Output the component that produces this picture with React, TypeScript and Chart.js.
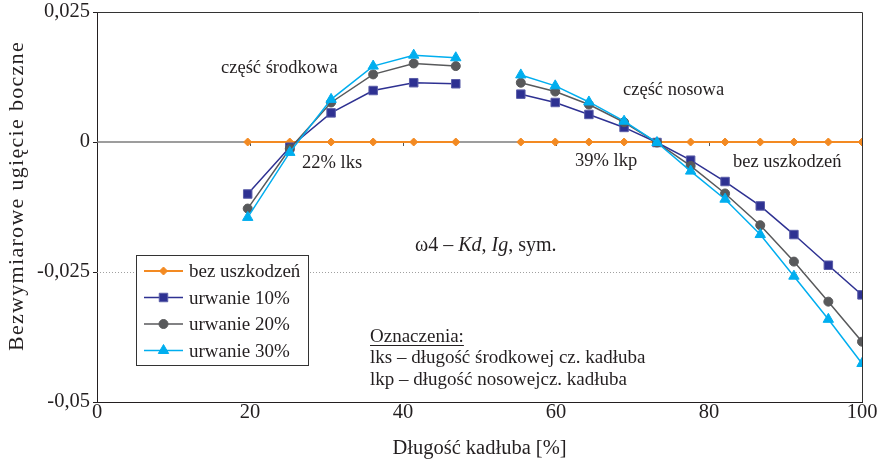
import React, { useEffect, useRef } from "react";
import { Chart, registerables } from "chart.js";
import { drawPoint } from "chart.js/helpers";

Chart.register(...registerables);

// Positions along the hull [%] where the deflection was computed
const hullPositions = [
  19.7, 25.2, 30.6, 36.1, 41.4, 46.9,
  55.4, 59.9, 64.3, 68.9, 73.2, 77.6, 82.1, 86.7, 91.1, 95.6, 100,
];
// the midship part ends at this index; the bow part starts after it
const midshipLastIndex = 5;

const noDamage = [0, 0, 0, 0, 0, 0, 0, 0, 0, 0, 0, 0, 0, 0, 0, 0, 0];
const break10 = [
  -0.01, -0.001, 0.0056, 0.0099, 0.0114, 0.0112,
  0.0092, 0.0076, 0.0053, 0.0028, -0.0001, -0.0035, -0.0076, -0.0123, -0.0178, -0.0237, -0.0294,
];
const break20 = [
  -0.0128, -0.0013, 0.0076, 0.013, 0.0151, 0.0146,
  0.0114, 0.0097, 0.0072, 0.0038, -0.0001, -0.0046, -0.0099, -0.016, -0.023, -0.0307, -0.0384,
];
const break30 = [
  -0.0145, -0.002, 0.0082, 0.0146, 0.0167, 0.0162,
  0.0129, 0.0108, 0.0077, 0.004, -0.0001, -0.0056, -0.011, -0.0178, -0.0258, -0.0341, -0.0426,
];

const seriesLabels = ["bez uszkodzeń", "urwanie 10%", "urwanie 20%", "urwanie 30%"];
const xTickValues = [0, 20, 40, 60, 80, 100];
const yTickValues = [-0.05, -0.025, 0, 0.025];
const zeroLineTicks = [20, 40, 60, 80];

const SERIF = '"Liberation Serif", "Times New Roman", serif';
const INK = "#231f20";

const toPoints = (values: number[]) =>
  values.map((v, i) => ({ x: hullPositions[i], y: v }));

const gapSegment = {
  borderColor: (ctx: any) =>
    ctx.p0DataIndex === midshipLastIndex ? "rgba(0,0,0,0)" : undefined,
};

const formatTick = (v: number) => (v === 0 ? "0" : String(v).replace(".", ","));

function drawMixed(ctx: CanvasRenderingContext2D, parts: [string, boolean][], x: number, y: number, size: number) {
  let cx = x;
  for (const [text, italic] of parts) {
    ctx.font = `${italic ? "italic " : ""}${size}px ${SERIF}`;
    ctx.fillText(text, cx, y);
    cx += ctx.measureText(text).width;
  }
}

const decorations = {
  id: "decorations",
  beforeDatasetsDraw(chart: any) {
    const { ctx, chartArea: a, scales } = chart;
    const xs = scales.x;
    const ys = scales.y;
    ctx.save();
    // dotted grid line
    const yd = Math.round(ys.getPixelForValue(-0.025)) + 0.5;
    ctx.strokeStyle = "#a0a0a0";
    ctx.lineWidth = 1;
    ctx.setLineDash([1, 2]);
    ctx.beginPath();
    ctx.moveTo(a.left, yd);
    ctx.lineTo(a.right, yd);
    ctx.stroke();
    ctx.setLineDash([]);
    // zero line with its small ticks
    const y0 = ys.getPixelForValue(0);
    ctx.strokeStyle = "#7d7d7d";
    ctx.lineWidth = 1.5;
    ctx.beginPath();
    ctx.moveTo(a.left, y0);
    ctx.lineTo(a.right, y0);
    ctx.stroke();
    ctx.strokeStyle = "#555";
    ctx.lineWidth = 1;
    for (const v of zeroLineTicks) {
      const px = Math.round(xs.getPixelForValue(v)) + 0.5;
      ctx.beginPath();
      ctx.moveTo(px, y0);
      ctx.lineTo(px, y0 + 4);
      ctx.stroke();
    }
    // frame: top and right
    ctx.strokeStyle = "#333";
    ctx.lineWidth = 1;
    ctx.beginPath();
    ctx.moveTo(a.left, Math.round(a.top) + 0.5);
    ctx.lineTo(Math.round(a.right) + 0.5, Math.round(a.top) + 0.5);
    ctx.lineTo(Math.round(a.right) + 0.5, a.bottom);
    ctx.stroke();
    ctx.restore();
  },
  afterDraw(chart: any) {
    const { ctx } = chart;
    ctx.save();
    ctx.fillStyle = INK;
    ctx.textBaseline = "alphabetic";
    ctx.textAlign = "left";

    // vertical axis title
    ctx.save();
    ctx.translate(17, 196);
    ctx.rotate(-Math.PI / 2);
    ctx.font = `22px ${SERIF}`;
    (ctx as any).letterSpacing = "1.3px";
    ctx.textAlign = "center";
    ctx.textBaseline = "middle";
    ctx.fillText("Bezwymiarowe ugięcie boczne", 0, 0);
    ctx.restore();

    // annotations
    ctx.font = `18.5px ${SERIF}`;
    ctx.fillText("część środkowa", 221, 73);
    ctx.fillText("22% lks", 302, 168);
    ctx.fillText("39% lkp", 575, 166);
    ctx.fillText("część nosowa", 623, 95);
    ctx.fillText("bez uszkodzeń", 733, 167);

    drawMixed(ctx, [["ω4 – ", false], ["Kd", true], [", ", false], ["Ig", true], [", sym.", false]], 415, 251, 20);

    ctx.font = `19px ${SERIF}`;
    ctx.fillText("Oznaczenia:", 370, 342);
    const w = ctx.measureText("Oznaczenia:").width;
    ctx.strokeStyle = INK;
    ctx.lineWidth = 1;
    ctx.beginPath();
    ctx.moveTo(370, 345.5);
    ctx.lineTo(370 + w, 345.5);
    ctx.stroke();
    ctx.fillText("lks – długość środkowej cz. kadłuba", 370, 363);
    ctx.fillText("lkp – długość nosowejcz. kadłuba", 370, 385);

    // legend
    const box = { l: 136.5, t: 255.5, r: 308.5, b: 365.5 };
    ctx.fillStyle = "#fff";
    ctx.fillRect(box.l, box.t, box.r - box.l, box.b - box.t);
    ctx.strokeStyle = "#333";
    ctx.lineWidth = 1;
    ctx.strokeRect(box.l, box.t, box.r - box.l, box.b - box.t);
    chart.data.datasets.forEach((ds: any, i: number) => {
      const cy = 271 + i * 26.5;
      ctx.strokeStyle = ds.borderColor;
      ctx.lineWidth = ds.borderWidth;
      ctx.beginPath();
      ctx.moveTo(144, cy);
      ctx.lineTo(183, cy);
      ctx.stroke();
      ctx.fillStyle = ds.pointBackgroundColor;
      ctx.strokeStyle = ds.pointBorderColor;
      ctx.lineWidth = ds.pointBorderWidth;
      drawPoint(ctx, {
        pointStyle: ds.pointStyle,
        radius: ds.pointRadius,
        rotation: 0,
        borderWidth: ds.pointBorderWidth,
      }, 163.5, cy);
      ctx.fillStyle = INK;
      ctx.font = `19px ${SERIF}`;
      ctx.fillText(ds.label, 189, cy + 6);
    });
    ctx.restore();
  },
};

export default function App() {
  const canvasRef = useRef<HTMLCanvasElement | null>(null);

  useEffect(() => {
    if (!canvasRef.current) return;
    const chart = new Chart(canvasRef.current, {
      type: "line",
      data: {
        datasets: [
          {
            label: seriesLabels[0],
            data: toPoints(noDamage),
            borderColor: "#f38a22",
            backgroundColor: "#f38a22",
            borderWidth: 2,
            pointStyle: "rectRot",
            pointRadius: 4,
            pointBackgroundColor: "#f38a22",
            pointBorderColor: "#f38a22",
            pointBorderWidth: 1,
            segment: gapSegment,
            order: 4,
          },
          {
            label: seriesLabels[1],
            data: toPoints(break10),
            borderColor: "#2e3192",
            backgroundColor: "#2e3192",
            borderWidth: 1.5,
            pointStyle: "rect",
            pointRadius: 6,
            pointBackgroundColor: "#2e3192",
            pointBorderColor: "#5a5da8",
            pointBorderWidth: 1,
            segment: gapSegment,
            order: 3,
          },
          {
            label: seriesLabels[2],
            data: toPoints(break20),
            borderColor: "#58595b",
            backgroundColor: "#58595b",
            borderWidth: 1.5,
            pointStyle: "circle",
            pointRadius: 4.5,
            pointBackgroundColor: "#58595b",
            pointBorderColor: "#58595b",
            pointBorderWidth: 1,
            segment: gapSegment,
            order: 2,
          },
          {
            label: seriesLabels[3],
            data: toPoints(break30),
            borderColor: "#00aeef",
            backgroundColor: "#00aeef",
            borderWidth: 1.5,
            pointStyle: "triangle",
            pointRadius: 6,
            pointBackgroundColor: "#00aeef",
            pointBorderColor: "#00aeef",
            pointBorderWidth: 1,
            segment: gapSegment,
            order: 1,
          },
        ],
      },
      options: {
        animation: false,
        responsive: false,
        maintainAspectRatio: false,
        layout: { padding: { left: 0, right: 19, top: 12, bottom: 0 } },
        plugins: {
          legend: { display: false },
          tooltip: { enabled: false },
        },
        scales: {
          x: {
            type: "linear",
            min: 0,
            max: 100,
            afterBuildTicks: (s: any) => {
              s.ticks = xTickValues.map((value) => ({ value }));
            },
            afterFit: (s: any) => {
              s.height = 62;
            },
            ticks: {
              color: INK,
              font: { family: SERIF, size: 20.5, lineHeight: 1 },
              padding: 0,
              maxRotation: 0,
              autoSkip: false,
            },
            grid: { drawOnChartArea: false, drawTicks: false },
            border: { color: INK, width: 1 },
            title: {
              display: true,
              text: "Długość kadłuba [%]",
              color: INK,
              font: { family: SERIF, size: 20.5 },
              padding: { top: 3, bottom: 3 },
            },
          },
          y: {
            type: "linear",
            min: -0.05,
            max: 0.025,
            afterBuildTicks: (s: any) => {
              s.ticks = yTickValues.map((value) => ({ value }));
            },
            afterFit: (s: any) => {
              s.width = 97;
              s.paddingTop = 0;
              s.paddingBottom = 0;
            },
            ticks: {
              color: INK,
              font: { family: SERIF, size: 20.5, lineHeight: 1 },
              padding: 3,
              callback: (v: any) => formatTick(Number(v)),
            },
            grid: { drawOnChartArea: false, drawTicks: true, tickLength: 4, color: INK },
            border: { color: INK, width: 1 },
          },
        },
      },
      plugins: [decorations],
    });
    return () => chart.destroy();
  }, []);

  return (
    <div style={{ position: "fixed", left: 0, top: 0, width: 881, height: 464, background: "#fff" }}>
      <canvas ref={canvasRef} width={881} height={464} style={{ display: "block" }} />
    </div>
  );
}
